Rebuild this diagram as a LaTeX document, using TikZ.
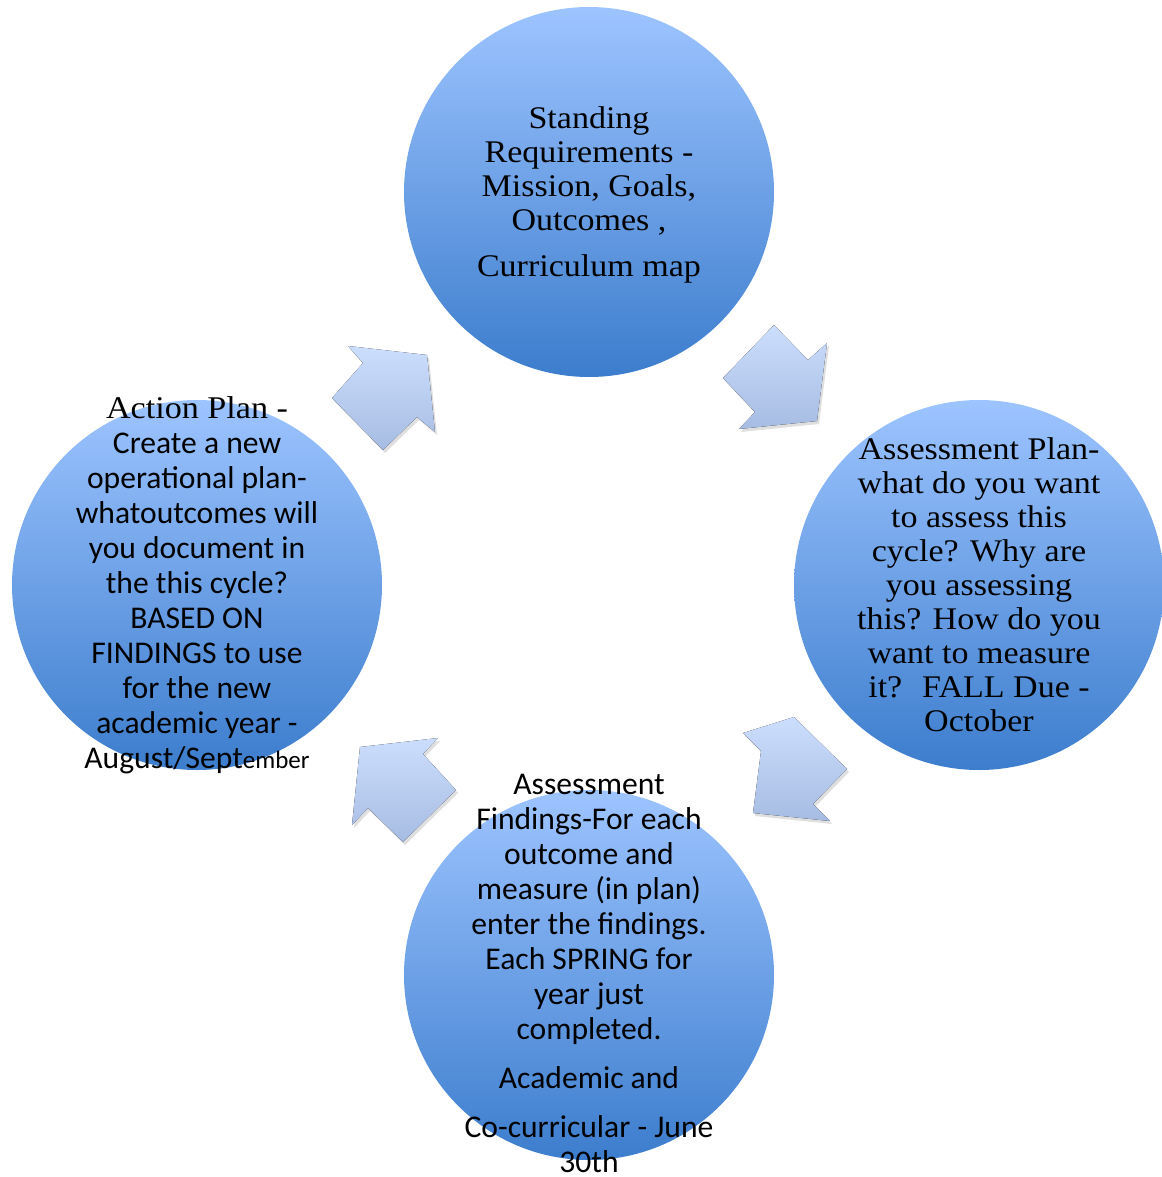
\documentclass[tikz,border=0pt]{standalone}
\usepackage{fontspec}
\setmainfont{Carlito}
\newfontfamily\cambria[FakeStretch=1.08]{Liberation Serif}
\usepackage{tikz}
\usetikzlibrary{shadows}
\usepackage{xcolor}
\definecolor{bubbletop}{RGB}{157,196,255}
\definecolor{bubblebot}{RGB}{60,125,205}
\definecolor{arrowtop}{RGB}{204,222,253}
\definecolor{arrowbot}{RGB}{166,188,226}
\tikzstyle{bubble} = [circle, minimum size=370pt, inner sep=0pt, top color=bubbletop, bottom color=bubblebot]
\tikzstyle{serifcap} = [align=center, inner sep=0pt, font=\cambria\fontsize{31.5}{34}\selectfont]
\tikzstyle{sanscap} = [align=center, inner sep=0pt, font=\fontsize{31.6}{35}\selectfont]
\tikzstyle{cyclearrow} = [top color=arrowtop, bottom color=arrowbot, drop shadow={opacity=0.25, shadow xshift=2pt, shadow yshift=-3pt}]

\begin{document}
\begin{tikzpicture}[x=1pt, y=-1pt]
    \useasboundingbox (0,0) rectangle (1161,1177);

    % Circles
    \node[bubble] (standing) at (589,192) {};
    \node[bubble] (plan) at (979,585) {};
    \node[bubble] (findings) at (589,975) {};
    \node[bubble] (action) at (197,585) {};

    % Arrows
    \fill[cyclearrow] (774,325) -- (808,360) -- (827,343) -- (817,421) -- (739,429) -- (755,412) -- (723,378) -- cycle;
    \fill[cyclearrow] (794,717) -- (847,769) -- (813,804) -- (830,821) -- (753,813) -- (761,751) -- (743,733) -- cycle;
    \fill[cyclearrow] (360,747) -- (438,738) -- (423,754) -- (456,790) -- (403,842) -- (368,808) -- (352,825) -- cycle;
    \fill[cyclearrow] (348,346) -- (427,355) -- (435,432) -- (417,417) -- (383,450) -- (332,398) -- (363,363) -- cycle;

    % Texts
    \node[serifcap] (standingtxt) at ([yshift=-3pt]standing.center) {Standing\\Requirements -\\Mission, Goals,\\Outcomes ,\\[12pt]Curriculum map};
    \node[serifcap] (plantxt) at (plan) {Assessment Plan-\\what do you want\\to assess this\\cycle? Why are\\you assessing\\this? How do you\\want to measure\\it?~ FALL Due -\\October};
    \node[sanscap] (findingstxt) at ([yshift=2pt]findings.center) {Assessment\\Findings-For each\\outcome and\\measure (in plan)\\enter the findings.\\Each SPRING for\\year just\\completed.\\[14pt]Academic and\\[14pt]Co-curricular - June\\30th};
    \node[sanscap] (actiontxt) at (action) {{\cambria Action Plan -}\\Create a new\\operational plan-\\whatoutcomes will\\you document in\\the this cycle?\\BASED ON\\FINDINGS to use\\for the new\\academic year -\\August/Sept{\fontsize{25}{35}\selectfont ember}};
\end{tikzpicture}
\end{document}
